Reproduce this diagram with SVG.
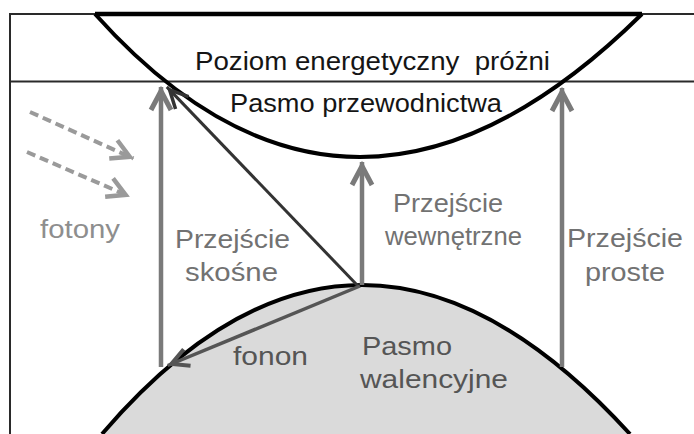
<svg xmlns="http://www.w3.org/2000/svg" width="694" height="434" viewBox="0 0 694 434">
<defs>
<style>
.lbl{font-family:"Liberation Sans",Arial,sans-serif}
.blk{fill:#151515;font-size:25px}
.gry{fill:#727272;font-size:26px}
.lgry{fill:#8e8e8e;font-size:26px}
.dgry{fill:#555555;font-size:26px}
.frame{stroke:#2a2a2a;stroke-width:2;fill:none}
.band{stroke:#000;stroke-width:4;fill:none}
.trans{stroke:#7a7a7a;stroke-width:4.5;fill:none}
.diag{stroke:#333;stroke-width:3;fill:none}
.fonon{stroke:#555;stroke-width:3.5;fill:none}
.photon{stroke:#9a9a9a;stroke-width:4;fill:none;stroke-dasharray:9 5}
</style>
<marker id="ah-gray" markerUnits="userSpaceOnUse" viewBox="-28 -15 32 30" refX="0" refY="0" markerWidth="32" markerHeight="30" orient="auto">
<path d="M-23,-10 L-4,0 L-23,10" fill="none" stroke="#7a7a7a" stroke-width="5"/>
</marker>
<marker id="ah-dark" markerUnits="userSpaceOnUse" viewBox="-28 -15 32 30" refX="0" refY="0" markerWidth="32" markerHeight="30" orient="auto">
<path d="M-22,-9 L-4,0 L-22,9" fill="none" stroke="#333" stroke-width="3.5"/>
</marker>
<marker id="ah-fonon" markerUnits="userSpaceOnUse" viewBox="-28 -15 32 30" refX="0" refY="0" markerWidth="32" markerHeight="30" orient="auto">
<path d="M-21,-9 L-4,0 L-21,9" fill="none" stroke="#555" stroke-width="4"/>
</marker>
<marker id="ah-photon" markerUnits="userSpaceOnUse" viewBox="-28 -15 32 30" refX="0" refY="0" markerWidth="32" markerHeight="30" orient="auto">
<path d="M-22,-10 L-4,0 L-22,10" fill="none" stroke="#9a9a9a" stroke-width="4.5"/>
</marker>
</defs>
<rect width="694" height="434" fill="#fff"/>

<g id="frame">
<path class="frame" d="M10,434 L10,14 L694,14"/>
<path class="frame" d="M10,81.5 L694,81.5" stroke-width="2.5"/>
</g>

<g id="valence-band">
<path d="M102,434 Q358,136 630,434 Z" fill="#dadada"/>
<path class="band" d="M102,434 Q358,136 630,434"/>
</g>

<g id="conduction-band">
<path d="M95,14 L642,14" stroke="#000" stroke-width="4.5"/>
<path class="band" d="M95,14 Q351.5,300 642,14"/>
</g>

<g id="connectors">
<path class="trans" d="M161,367 L161,87" marker-end="url(#ah-gray)"/>
<path class="trans" d="M362,285 L362,162" marker-end="url(#ah-gray)"/>
<path class="trans" d="M562,367 L562,88" marker-end="url(#ah-gray)"/>
<path class="diag" d="M358,286 L166.8,86.9" marker-end="url(#ah-dark)"/>
<path class="fonon" d="M360,286 L167.7,365.5" marker-end="url(#ah-fonon)"/>
<path class="photon" d="M30,112 L133.4,158.4" marker-end="url(#ah-photon)"/>
<path class="photon" d="M27,152 L129.3,196.4" marker-end="url(#ah-photon)"/>
</g>

<g id="labels" class="lbl">
<text id="vacuum" class="blk" x="195" y="70" textLength="355" lengthAdjust="spacingAndGlyphs" xml:space="preserve">Poziom energetyczny  próżni</text>
<text id="cond-label" class="blk" x="230" y="112" textLength="272" lengthAdjust="spacingAndGlyphs">Pasmo przewodnictwa</text>
<text id="fotony" class="lgry" x="40" y="238" textLength="80" lengthAdjust="spacingAndGlyphs">fotony</text>
<g id="skosne">
<text class="gry" x="175" y="248" textLength="115" lengthAdjust="spacingAndGlyphs">Przejście</text>
<text class="gry" x="185" y="281" textLength="93" lengthAdjust="spacingAndGlyphs">skośne</text>
</g>
<g id="wewnetrzne">
<text class="gry" x="393" y="212" textLength="110" lengthAdjust="spacingAndGlyphs">Przejście</text>
<text class="gry" x="385" y="245" textLength="137" lengthAdjust="spacingAndGlyphs">wewnętrzne</text>
</g>
<g id="proste">
<text class="gry" x="567" y="247" textLength="116" lengthAdjust="spacingAndGlyphs">Przejście</text>
<text class="gry" x="585" y="281" textLength="80" lengthAdjust="spacingAndGlyphs">proste</text>
</g>
<text id="fonon" class="dgry" x="233" y="365" textLength="75" lengthAdjust="spacingAndGlyphs">fonon</text>
<g id="val-label">
<text class="dgry" x="362" y="355" textLength="90" lengthAdjust="spacingAndGlyphs">Pasmo</text>
<text class="dgry" x="360" y="388" textLength="148" lengthAdjust="spacingAndGlyphs">walencyjne</text>
</g>
</g>
</svg>
